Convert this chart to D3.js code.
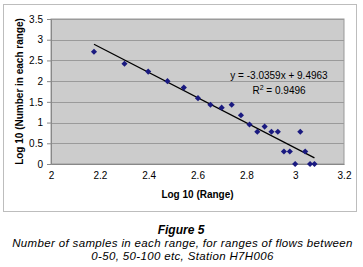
<!DOCTYPE html>
<html>
<head>
<meta charset="utf-8">
<script src="https://cdn.jsdelivr.net/npm/d3@7"></script>
<style>
  body { margin: 0; background: #fff; }
  svg text { font-family: "Liberation Sans", Arial, sans-serif; fill: #000; }
  .tick text { font-size: 10px; }
  .axisTitle { font-size: 10px; font-weight: bold; }
  .caption { font-size: 11.5px; font-style: italic; letter-spacing: 0.35px; }
</style>
</head>
<body>
<div id="chart"></div>
<script>
// log10 of upper limit of each flow range
var rangeLog = [2.176, 2.301, 2.398, 2.477, 2.544, 2.602, 2.653, 2.699, 2.740, 2.778, 2.813,
                2.845, 2.875, 2.903, 2.929, 2.954, 2.978, 3.000, 3.021, 3.041, 3.061, 3.079];
// log10 of number of samples in each range
var countLog = [2.71, 2.42, 2.23, 2.00, 1.845, 1.59, 1.43, 1.36, 1.43, 1.176, 0.954,
                0.778, 0.903, 0.778, 0.778, 0.301, 0.301, 0, 0.778, 0.301, 0, 0];
var xTicks = [2, 2.2, 2.4, 2.6, 2.8, 3, 3.2];
var yTicks = [0, 0.5, 1, 1.5, 2, 2.5, 3, 3.5];
var slope = -3.0359, intercept = 9.4963, r2 = 0.9496;
var captionTitle = "Figure 5";
var captionLines = ["Number of samples in each range, for ranges of flows between",
                    "0-50, 50-100 etc, Station H7H006"];

var W = 363, H = 267;
var margin = { top: 19, right: 19, bottom: 103, left: 51 };
var width = W - margin.left - margin.right;
var height = H - margin.top - margin.bottom;

var svg = d3.select("#chart").append("svg")
  .attr("width", W)
  .attr("height", H);

// outer chart frame
svg.append("rect")
  .attr("x", 3.5).attr("y", 4.5)
  .attr("width", 353).attr("height", 207)
  .style("fill", "#fff")
  .style("stroke", "#bdbdbd");

var g = svg.append("g")
  .attr("transform", "translate(" + margin.left + "," + margin.top + ")");

var x = d3.scaleLinear().domain([2, 3.2]).range([0, width]);
var y = d3.scaleLinear().domain([0, 3.5]).range([height, 0]);

// plot area
g.append("rect")
  .attr("width", width).attr("height", height)
  .style("fill", "#cccccc")
  .style("stroke", "#999");

// gridlines
g.selectAll(".grid")
  .data(yTicks.slice(1))
  .enter().append("line")
  .attr("class", "grid")
  .attr("x1", 0).attr("x2", width)
  .attr("y1", function(d){ return Math.round(y(d)) + 0.5; })
  .attr("y2", function(d){ return Math.round(y(d)) + 0.5; })
  .style("stroke", "#9a9a9a");

var xAxis = d3.axisBottom(x).tickValues(xTicks).tickFormat(d3.format("")).tickSize(0).tickPadding(8);
var yAxis = d3.axisLeft(y).tickValues(yTicks).tickFormat(d3.format("")).tickSize(4).tickPadding(4);

var xg = g.append("g").attr("transform", "translate(0," + height + ")").call(xAxis);
xg.select(".domain").style("stroke", "#888");
var yg = g.append("g").call(yAxis);
yg.select(".domain").style("stroke", "#888");
yg.selectAll(".tick line").style("stroke", "#888");
g.selectAll(".tick text").style("font-family", "Liberation Sans, Arial, sans-serif");

// trendline
g.append("line")
  .attr("x1", x(d3.min(rangeLog))).attr("y1", y(slope * d3.min(rangeLog) + intercept))
  .attr("x2", x(d3.max(rangeLog))).attr("y2", y(slope * d3.max(rangeLog) + intercept))
  .style("stroke", "#000")
  .style("stroke-width", 1.3);

// points
var pts = rangeLog.map(function(d, i){ return { x: d, y: countLog[i] }; });
g.selectAll(".pt")
  .data(pts)
  .enter().append("path")
  .attr("class", "pt")
  .attr("d", d3.symbol().type(d3.symbolDiamond2).size(24))
  .attr("transform", function(d){ return "translate(" + x(d.x) + "," + y(d.y) + ")"; })
  .style("fill", "#1a1a80");

// equation
g.append("text")
  .attr("x", 228).attr("y", 60)
  .attr("text-anchor", "middle")
  .style("font-size", "10px")
  .text("y = " + slope + "x + " + intercept);
var rt = g.append("text")
  .attr("x", 228).attr("y", 74.5)
  .attr("text-anchor", "middle")
  .style("font-size", "10px");
rt.append("tspan").text("R");
rt.append("tspan").attr("dy", -4).style("font-size", "7px").text("2");
rt.append("tspan").attr("dy", 4).text(" = " + r2);

// axis titles
g.append("text")
  .attr("class", "axisTitle")
  .attr("x", width / 2).attr("y", height + 34)
  .attr("text-anchor", "middle")
  .text("Log 10 (Range)");
g.append("text")
  .attr("class", "axisTitle")
  .attr("transform", "rotate(-90)")
  .attr("x", -height / 2).attr("y", -28)
  .attr("text-anchor", "middle")
  .text("Log 10 (Number in each range)");

// caption
svg.append("text")
  .attr("x", 181).attr("y", 234)
  .attr("text-anchor", "middle")
  .style("font-size", "12px").style("font-weight", "bold").style("font-style", "italic")
  .text(captionTitle);
svg.selectAll(".caption")
  .data(captionLines)
  .enter().append("text")
  .attr("class", "caption")
  .attr("x", 182.5)
  .attr("y", function(d, i){ return 247.3 + i * 12.9; })
  .attr("text-anchor", "middle")
  .text(function(d){ return d; });
</script>
</body>
</html>
